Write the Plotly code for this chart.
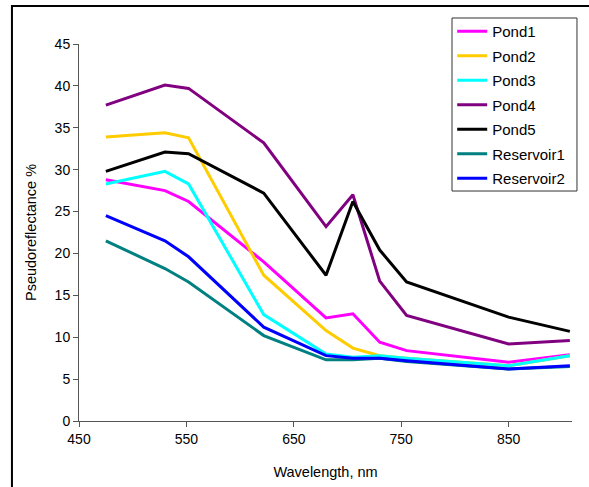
import plotly.graph_objects as go

# Band centre wavelengths (nm)
wavelength = [475, 530, 552, 622, 680, 705, 730, 755, 850, 907]

# Pseudoreflectance (%) per site
pond1 = [28.8, 27.5, 26.2, 19.0, 12.3, 12.8, 9.4, 8.4, 7.0, 7.9]
pond2 = [33.9, 34.4, 33.8, 17.4, 10.8, 8.7, 7.8, 7.5, 6.6, 7.8]
pond3 = [28.3, 29.8, 28.3, 12.7, 8.0, 7.6, 7.8, 7.5, 6.6, 7.8]
pond4 = [37.7, 40.1, 39.7, 33.2, 23.2, 27.0, 16.7, 12.6, 9.2, 9.6]
pond5 = [29.8, 32.1, 31.9, 27.2, 17.4, 26.2, 20.4, 16.6, 12.4, 10.7]
reservoir1 = [21.5, 18.2, 16.6, 10.2, 7.3, 7.3, 7.5, 7.1, 6.2, 6.5]
reservoir2 = [24.5, 21.5, 19.6, 11.2, 7.8, 7.5, 7.5, 7.2, 6.2, 6.6]

series = [
    ("Pond1", pond1, "#FF00FF"),
    ("Pond2", pond2, "#FFCC00"),
    ("Pond3", pond3, "#00FFFF"),
    ("Pond4", pond4, "#800080"),
    ("Pond5", pond5, "#000000"),
    ("Reservoir1", reservoir1, "#008080"),
    ("Reservoir2", reservoir2, "#0000FF"),
]

x_ticks = [450, 550, 650, 750, 850]
y_ticks = [0, 5, 10, 15, 20, 25, 30, 35, 40, 45]

font = "Liberation Sans, Arial, sans-serif"

fig = go.Figure()
for name, vals, color in series:
    fig.add_trace(go.Scatter(
        x=wavelength, y=vals, name=name, mode="lines",
        line=dict(color=color, width=3), legendgroup=name,
    ))

fig.update_layout(
    width=589, height=487,
    margin=dict(l=79, r=17, t=44, b=66, autoexpand=False),
    paper_bgcolor="white", plot_bgcolor="white",
    font=dict(family=font, size=14, color="black"),
    showlegend=True,
    legend=dict(
        x=0.757, y=1.077, xanchor="left", yanchor="top",
        bgcolor="rgba(0,0,0,0)", borderwidth=0,
        font=dict(size=15), traceorder="grouped", tracegroupgap=2,
    ),
    xaxis=dict(
        range=[450, 909], tickvals=x_ticks, showgrid=False, zeroline=False,
        showline=True, linecolor="#555555", linewidth=1,
        ticks="outside", ticklen=5, tickcolor="#555555", automargin=False,
        title=dict(text="Wavelength, nm", font=dict(size=14.5), standoff=21),
    ),
    yaxis=dict(
        range=[0, 45], tickvals=y_ticks, showgrid=False, zeroline=False,
        showline=True, linecolor="#555555", linewidth=1,
        ticks="outside", ticklen=5, tickcolor="#555555", automargin=False,
        title=dict(text="Pseudoreflectance %", font=dict(size=14.5), standoff=14),
    ),
    shapes=[
        # outer chart frame
        dict(type="rect", xref="paper", yref="paper",
             x0=-0.136, x1=1.2, y0=-0.3, y1=1.101,
             line=dict(color="black", width=2), fillcolor="rgba(0,0,0,0)"),
        # legend frame
        dict(type="rect", xref="paper", yref="paper", layer="below",
             x0=0.7566, x1=1.0101, y0=0.610, y1=1.069,
             line=dict(color="#333333", width=1), fillcolor="white"),
    ],
)

fig.write_html("out.html")
